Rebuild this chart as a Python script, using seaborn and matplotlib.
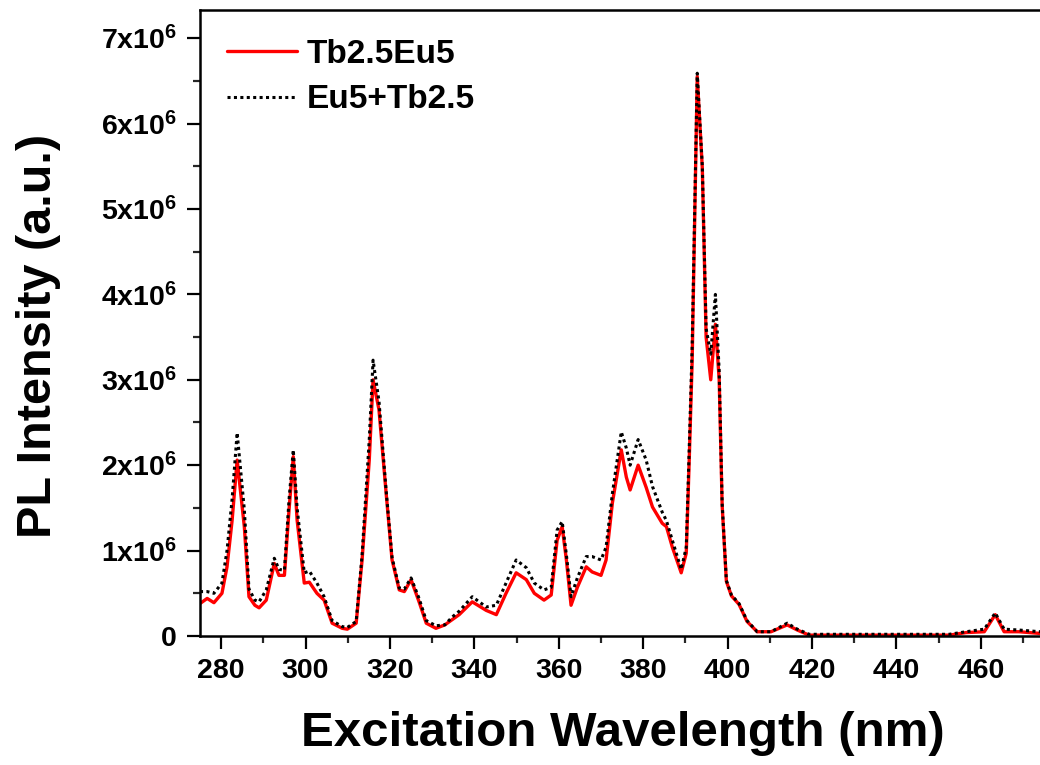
import matplotlib
matplotlib.use('Agg')
import matplotlib.pyplot as plt
from matplotlib.ticker import MultipleLocator
import pandas as pd
import seaborn as sns

# excitation spectra, intensity in units of 1e6 counts
wavelength = [275.0, 276.7, 278.3, 280.2, 281.4, 282.6, 283.8, 285.5, 286.6, 288.0,
              289.0, 290.7, 292.6, 293.7, 295.0, 296.1, 297.1, 298.0, 299.7, 300.9,
              302.7, 304.4, 306.3, 308.7, 309.9, 312.0, 313.4, 315.1, 316.0, 317.4,
              319.1, 320.5, 322.2, 323.4, 325.0, 326.9, 328.6, 330.9, 333.0, 334.7,
              336.4, 339.5, 342.8, 345.2, 347.5, 349.9, 352.3, 354.2, 356.5, 358.2,
              359.6, 360.8, 361.8, 362.9, 364.4, 366.5, 367.9, 370.0, 371.2, 372.7,
              374.8, 376.0, 376.9, 378.8, 380.7, 382.2, 384.5, 385.5, 386.9, 389.0,
              390.2, 390.9, 391.6, 392.8, 394.0, 394.9, 396.0, 397.1, 398.0, 398.7,
              399.7, 400.9, 402.7, 404.6, 407.0, 410.3, 414.1, 416.5, 419.3, 430.0,
              440.0, 452.5, 456.5, 460.8, 463.4, 465.5, 469.0, 474.0]

tb25_eu5 = [0.38, 0.44, 0.39, 0.50, 0.81, 1.35, 2.06, 1.28, 0.46, 0.36,
            0.33, 0.42, 0.85, 0.71, 0.71, 1.48, 2.10, 1.36, 0.62, 0.63,
            0.50, 0.42, 0.15, 0.09, 0.08, 0.15, 0.89, 2.06, 3.00, 2.65,
            1.67, 0.89, 0.54, 0.52, 0.66, 0.40, 0.15, 0.09, 0.13, 0.19,
            0.25, 0.40, 0.30, 0.25, 0.50, 0.74, 0.66, 0.50, 0.42, 0.48,
            1.12, 1.28, 0.89, 0.36, 0.57, 0.81, 0.75, 0.71, 0.89, 1.56,
            2.18, 1.86, 1.71, 2.00, 1.74, 1.51, 1.32, 1.28, 1.04, 0.74,
            0.97, 2.06, 3.23, 6.55, 5.48, 3.50, 3.00, 3.65, 3.00, 1.53,
            0.64, 0.47, 0.37, 0.17, 0.05, 0.05, 0.13, 0.07, 0.01, 0.01,
            0.01, 0.01, 0.04, 0.05, 0.25, 0.05, 0.05, 0.03]

eu5_tb25 = [0.52, 0.52, 0.50, 0.62, 1.00, 1.60, 2.38, 1.48, 0.55, 0.42,
            0.40, 0.54, 0.91, 0.78, 0.77, 1.60, 2.18, 1.50, 0.74, 0.76,
            0.62, 0.46, 0.18, 0.11, 0.10, 0.17, 0.95, 2.30, 3.23, 2.75,
            1.70, 0.92, 0.56, 0.55, 0.68, 0.44, 0.18, 0.12, 0.13, 0.22,
            0.29, 0.46, 0.34, 0.36, 0.62, 0.89, 0.80, 0.62, 0.54, 0.57,
            1.24, 1.34, 0.95, 0.46, 0.68, 0.93, 0.93, 0.89, 1.04, 1.67,
            2.39, 2.20, 2.00, 2.30, 2.06, 1.75, 1.45, 1.35, 1.12, 0.78,
            1.04, 2.20, 3.40, 6.59, 5.50, 3.60, 3.30, 4.00, 3.10, 1.55,
            0.65, 0.48, 0.38, 0.18, 0.05, 0.05, 0.15, 0.08, 0.02, 0.02,
            0.02, 0.02, 0.05, 0.08, 0.27, 0.08, 0.07, 0.05]

y_ticks = [0, 1, 2, 3, 4, 5, 6, 7]
y_tick_labels = ['0'] + ['%dx10$^{6}$' % v for v in y_ticks[1:]]

df = pd.DataFrame({'wl': wavelength,
                   'red': [v * 1e6 for v in tb25_eu5],
                   'black': [v * 1e6 for v in eu5_tb25]})

sns.set_style('ticks')
plt.rcParams['font.family'] = ['Liberation Sans', 'DejaVu Sans']
plt.rcParams['font.weight'] = 'bold'
plt.rcParams['text.color'] = 'black'
plt.rcParams['axes.labelcolor'] = 'black'
plt.rcParams['mathtext.fontset'] = 'custom'
plt.rcParams['mathtext.rm'] = 'Liberation Sans:bold'
plt.rcParams['mathtext.bf'] = 'Liberation Sans:bold'
plt.rcParams['mathtext.default'] = 'rm'

fig = plt.figure(figsize=(10.4, 7.65), dpi=100)
ax = fig.add_axes([200 / 1040, 1 - 636 / 765, 840 / 1040, 626 / 765])

sns.lineplot(data=df, x='wl', y='red', color='#ff0000', lw=2.4,
             errorbar=None, label='Tb2.5Eu5', ax=ax)
sns.lineplot(data=df, x='wl', y='black', color='black', lw=2.2,
             linestyle=(0, (1, 1.1)), errorbar=None, label='Eu5+Tb2.5', ax=ax)

ax.set_xlim(275, 474)
ax.set_ylim(0, 7.33e6)
ax.xaxis.set_major_locator(MultipleLocator(20))
ax.xaxis.set_minor_locator(MultipleLocator(10))
ax.set_yticks([v * 1e6 for v in y_ticks], y_tick_labels)
ax.yaxis.set_minor_locator(MultipleLocator(0.5e6))

for side in ['left', 'bottom', 'top']:
    ax.spines[side].set_linewidth(1.8)
    ax.spines[side].set_color('black')
ax.spines['right'].set_visible(False)

ax.tick_params(which='major', direction='out', length=9.5, width=1.6,
               labelsize=20.5, colors='black')
ax.tick_params(which='minor', direction='out', length=5, width=1.6)
ax.tick_params(axis='x', which='major', pad=6)
ax.tick_params(axis='y', which='major', pad=7)
ax.tick_params(top=False, right=False)
for lab in ax.get_xticklabels() + ax.get_yticklabels():
    lab.set_fontweight('bold')

ax.set_xlabel('Excitation Wavelength (nm)', fontsize=35.5, fontweight='bold', color='black')
ax.set_ylabel('PL Intensity (a.u.)', fontsize=35, fontweight='bold', color='black')
ax.xaxis.set_label_coords(0.503, -0.12)
ax.yaxis.set_label_coords(-0.165, 0.48)

leg = ax.legend(loc='upper left', bbox_to_anchor=(0.032, 0.954), frameon=False,
                fontsize=24, handlelength=2.1, handletextpad=0.3,
                labelspacing=0.44, borderpad=0, borderaxespad=0)
for t in leg.get_texts():
    t.set_fontweight('bold')
    t.set_color('black')

fig.savefig('out.png', dpi=100)
